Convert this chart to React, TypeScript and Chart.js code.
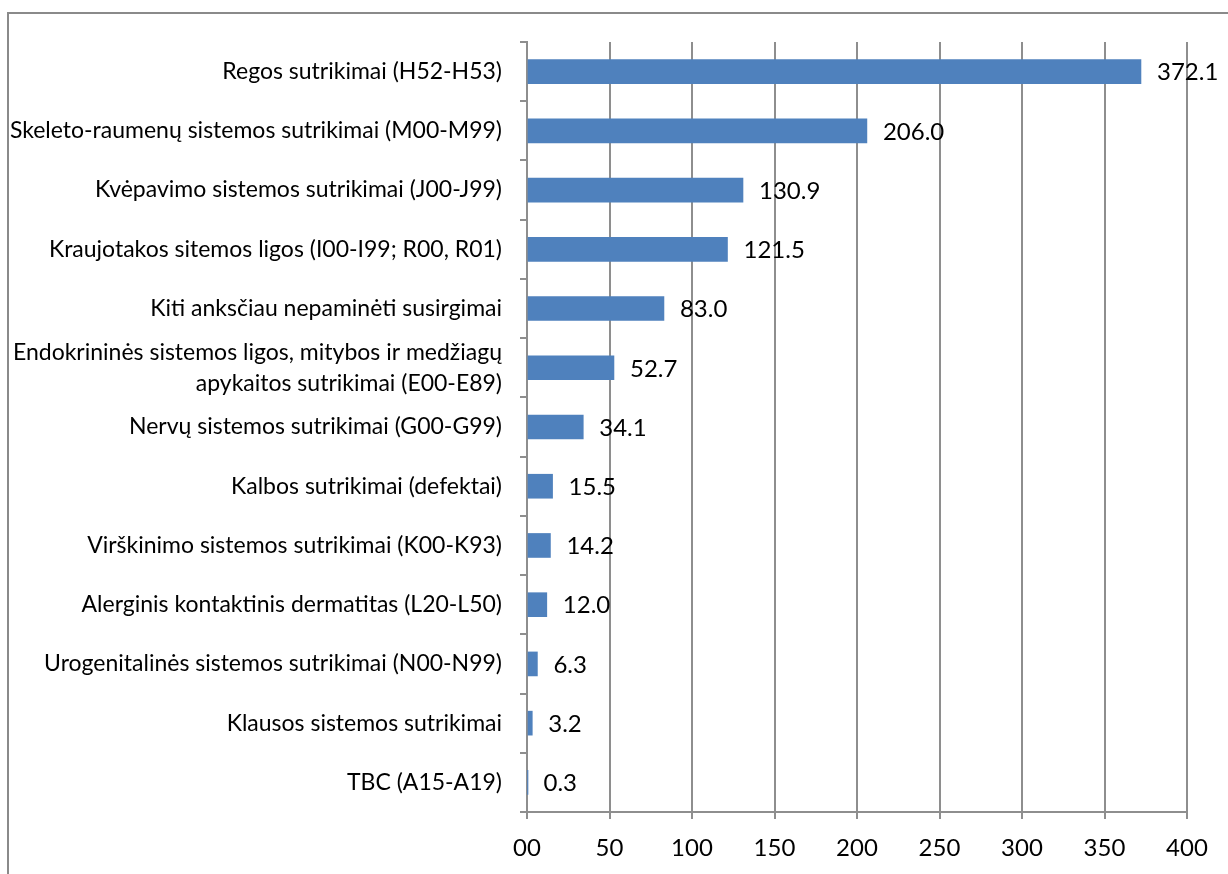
import React, { useEffect, useRef } from "react";
import { Chart, registerables } from "chart.js";

Chart.register(...registerables);

const categories: (string | string[])[] = [
  "Regos sutrikimai (H52-H53)",
  "Skeleto-raumenų sistemos sutrikimai (M00-M99)",
  "Kvėpavimo sistemos sutrikimai (J00-J99)",
  "Kraujotakos sitemos ligos (I00-I99; R00, R01)",
  "Kiti anksčiau nepaminėti susirgimai",
  ["Endokrininės sistemos ligos, mitybos ir medžiagų", "apykaitos sutrikimai (E00-E89)"],
  "Nervų sistemos sutrikimai (G00-G99)",
  "Kalbos sutrikimai (defektai)",
  "Virškinimo sistemos sutrikimai (K00-K93)",
  "Alerginis kontaktinis dermatitas (L20-L50)",
  "Urogenitalinės sistemos sutrikimai (N00-N99)",
  "Klausos sistemos sutrikimai",
  "TBC (A15-A19)",
];

const values: number[] = [372.1, 206.0, 130.9, 121.5, 83.0, 52.7, 34.1, 15.5, 14.2, 12.0, 6.3, 3.2, 0.3];

const xTickLabels: string[] = ["00", "50", "100", "150", "200", "250", "300", "350", "400"];

const FONT = "Lato, 'Open Sans', sans-serif";

export default function App() {
  const ref = useRef<HTMLCanvasElement | null>(null);

  useEffect(() => {
    if (!ref.current) return;

    const framePlugin = {
      id: "frame",
      beforeDraw(chart: any) {
        const ctx = chart.ctx;
        ctx.save();
        ctx.strokeStyle = "#8a8a8a";
        ctx.lineWidth = 2;
        ctx.beginPath();
        ctx.moveTo(8, 874);
        ctx.lineTo(8, 13);
        ctx.lineTo(1228, 13);
        ctx.stroke();
        ctx.restore();
      },
    };

    const labelPlugin = {
      id: "valueLabels",
      afterDatasetsDraw(chart: any) {
        const ctx = chart.ctx;
        const meta = chart.getDatasetMeta(0);
        ctx.save();
        ctx.fillStyle = "#000";
        ctx.font = `24px ${FONT}`;
        ctx.textAlign = "left";
        ctx.textBaseline = "middle";
        meta.data.forEach((bar: any, i: number) => {
          ctx.fillText(values[i].toFixed(1), bar.x + 16, bar.y + 1);
        });
        ctx.restore();
      },
    };

    const chart = new Chart(ref.current, {
      type: "bar",
      data: {
        labels: categories,
        datasets: [
          {
            data: values,
            backgroundColor: "#4F81BD",
            borderWidth: 0,
            barThickness: 24,
          },
        ],
      },
      options: {
        indexAxis: "y",
        animation: false,
        responsive: false,
        maintainAspectRatio: false,
        layout: { padding: { left: 0, right: 41, top: 42, bottom: 0 } },
        plugins: {
          legend: { display: false },
          tooltip: { enabled: false },
        },
        scales: {
          x: {
            min: 0,
            max: 400,
            afterFit(scale: any) {
              scale.height = 62;
            },
            ticks: {
              stepSize: 50,
              color: "#000",
              font: { family: FONT, size: 24 },
              padding: 15,
              callback: (_v: any, i: number) => xTickLabels[i],
            },
            grid: {
              color: "#8e8e8e",
              lineWidth: 2,
              drawTicks: true,
              tickLength: 7,
            },
            border: { color: "#8e8e8e", width: 2 },
          },
          y: {
            afterFit(scale: any) {
              scale.width = 527;
            },
            ticks: {
              color: "#000",
              font: { family: FONT, size: 23, lineHeight: 1.35 },
              padding: 18,
              autoSkip: false,
            },
            grid: {
              drawOnChartArea: false,
              drawTicks: true,
              tickLength: 7,
              color: "#8e8e8e",
              lineWidth: 2,
            },
            border: { color: "#8e8e8e", width: 2 },
          },
        },
      },
      plugins: [framePlugin, labelPlugin],
    });

    return () => chart.destroy();
  }, []);

  return (
    <div style={{ position: "fixed", left: 0, top: 0, width: 1228, height: 874, background: "#fff" }}>
      <canvas ref={ref} width={1228} height={874} style={{ display: "block" }} />
    </div>
  );
}
